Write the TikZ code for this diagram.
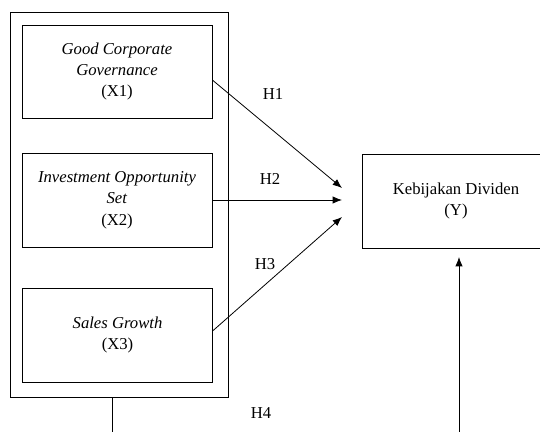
\documentclass[tikz,border=0pt]{standalone}
\usepackage{fontspec}
\setmainfont{Liberation Serif}
\usetikzlibrary{arrows.meta}
\tikzset{
  varbox/.style={draw,line width=0.6pt,align=center,inner sep=0pt,
    font=\fontsize{12.5}{16}\selectfont},
  link/.style={line width=0.6pt,-{Latex[length=7pt,width=5.5pt]}},
  hlabel/.style={font=\fontsize{12.5}{14}\selectfont}
}
\begin{document}
\begin{tikzpicture}[x=0.75pt,y=-0.75pt]
\useasboundingbox (0,0) rectangle (540,432);
\clip (0,0) rectangle (540,432);
\node[varbox,minimum width=163.5pt,minimum height=288.75pt] (grp) at (119,204.5) {};
\node[varbox,minimum width=142.5pt,minimum height=69.75pt] (x1) at (117,71.5) {\textit{Good Corporate}\\\textit{Governance}\\(X1)};
\node[varbox,minimum width=142.5pt,minimum height=70.5pt] (x2) at (117,200) {\textit{Investment Opportunity}\\\textit{Set}\\(X2)};
\node[varbox,minimum width=142pt,minimum height=70.5pt] (x3) at (117.5,335) {\textit{Sales Growth}\\(X3)};
\node[varbox,minimum width=141pt,minimum height=70.5pt] (y) at (456,201) {Kebijakan Dividen\\(Y)};
\coordinate (t1) at (342,188);
\coordinate (t2) at (342,200);
\coordinate (t3) at (342,217);
\coordinate (t4) at (459,257);
\coordinate (b1) at (112,432);
\coordinate (b2) at (459,432);
\draw[link] ([yshift=-6.4pt]x1.east) -- (t1);
\draw[link] (x2.east) -- (t2);
\draw[link] ([yshift=3pt]x3.east) -- (t3);
\draw[line width=0.6pt] ([xshift=-5.25pt]grp.south) -- (b1);
\draw[link] (b2) -- (t4);
\node[hlabel] (h1) at (273,94) {H1};
\node[hlabel] (h2) at (270,179) {H2};
\node[hlabel] (h3) at (265,264) {H3};
\node[hlabel] (h4) at (261,413) {H4};
\end{tikzpicture}
\end{document}
